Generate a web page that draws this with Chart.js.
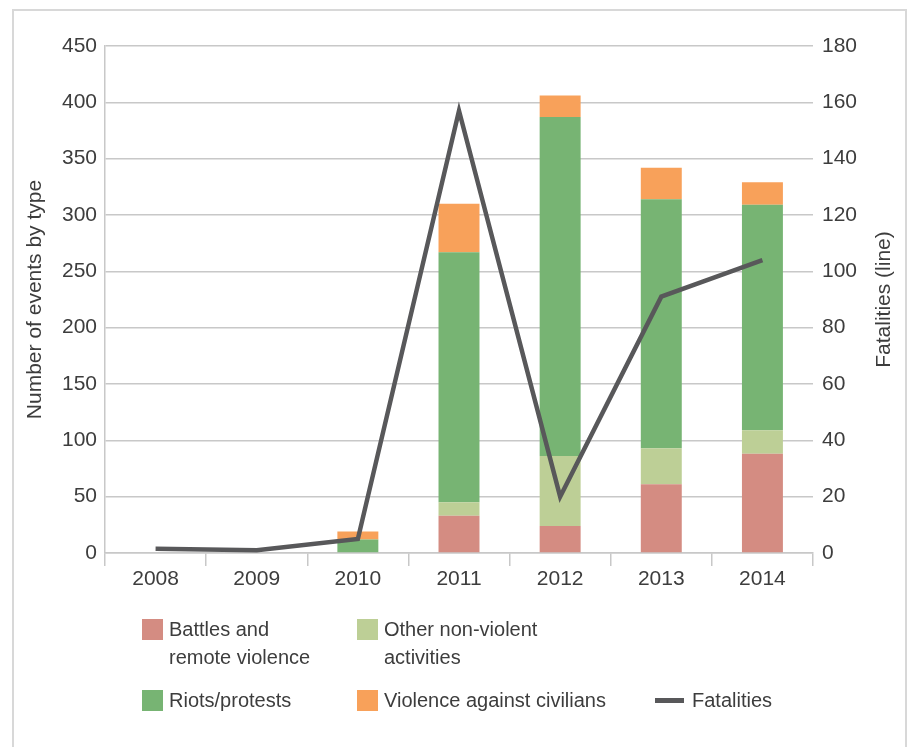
<!DOCTYPE html>
<html><head><meta charset="utf-8">
<script src="https://cdn.jsdelivr.net/npm/chart.js@4.4.1/dist/chart.umd.min.js"></script>
<style>
html,body{margin:0;padding:0;background:#fff;}
body{width:912px;height:747px;position:relative;overflow:hidden;font-family:"Liberation Sans",Arial,sans-serif;}
#frame{position:absolute;left:12px;top:9px;width:895px;height:780px;border:2px solid #d8d8d8;box-sizing:border-box;}
#wrap{position:absolute;left:0;top:0;width:912px;height:747px;}
.lg{position:absolute;font-size:20px;color:#3d3d3d;line-height:28px;white-space:pre-line;}
.sw{position:absolute;width:21px;height:21px;}
.ln{position:absolute;width:29px;height:5px;}
</style></head><body>
<div id="frame"></div>
<div id="wrap"><canvas id="c" width="912" height="747"></canvas></div>
<div id="legend"></div>
<script>
// ---- data ----
const categories = ['2008', '2009', '2010', '2011', '2012', '2013', '2014'];
const battlesRemoteViolence = [0, 0, 0, 33, 24, 61, 88];
const otherNonViolent = [0, 0, 0, 12, 62, 32, 21];
const riotsProtests = [0, 0, 12, 222, 301, 221, 200];
const violenceAgainstCivilians = [0, 0, 7, 43, 19, 28, 20];
const fatalities = [1.5, 1, 5, 157, 20, 91, 104];
const seriesNames = ['Battles and\nremote violence', 'Other non-violent\nactivities', 'Riots/protests', 'Violence against civilians', 'Fatalities'];
const leftAxisTitle = 'Number of events by type';
const rightAxisTitle = 'Fatalities (line)';

// ---- styles ----
const colors = ['#d48c82', '#bdcf96', '#77b473', '#f8a15a', '#58585a'];
const textColor = '#3d3d3d';
const gridColor = '#c8c8c8';
const fontFam = '"Liberation Sans", Arial, sans-serif';

const barBase = {type: 'bar', yAxisID: 'y', stack: 's', order: 1, barPercentage: 0.405, categoryPercentage: 1, borderWidth: 0};

const rightTitlePlugin = {
  id: 'rightTitle',
  afterDraw(chart) {
    const ctx = chart.ctx, a = chart.chartArea;
    ctx.save();
    ctx.translate(884, (a.top + a.bottom) / 2);
    ctx.rotate(-Math.PI / 2);
    ctx.font = '21px ' + fontFam;
    ctx.fillStyle = textColor;
    ctx.textAlign = 'center';
    ctx.textBaseline = 'middle';
    ctx.fillText(rightAxisTitle, 0, 0);
    ctx.restore();
  }
};

const chart = new Chart(document.getElementById('c'), {
  data: {
    labels: categories,
    datasets: [
      Object.assign({}, barBase, {label: seriesNames[0], data: battlesRemoteViolence, backgroundColor: colors[0]}),
      Object.assign({}, barBase, {label: seriesNames[1], data: otherNonViolent, backgroundColor: colors[1]}),
      Object.assign({}, barBase, {label: seriesNames[2], data: riotsProtests, backgroundColor: colors[2]}),
      Object.assign({}, barBase, {label: seriesNames[3], data: violenceAgainstCivilians, backgroundColor: colors[3]}),
      {type: 'line', label: seriesNames[4], data: fatalities, yAxisID: 'y1', order: 0,
       borderColor: colors[4], backgroundColor: colors[4], borderWidth: 4.5, pointRadius: 0,
       tension: 0, fill: false, borderCapStyle: 'butt', borderJoinStyle: 'miter'}
    ]
  },
  options: {
    responsive: false,
    animation: false,
    devicePixelRatio: 1,
    layout: {padding: {top: 46, left: 0, right: 0, bottom: 0}},
    plugins: {legend: {display: false}, tooltip: {enabled: false}},
    scales: {
      x: {
        stacked: true,
        grid: {offset: true, drawOnChartArea: false, tickLength: 13, color: gridColor, lineWidth: 1.5},
        border: {display: true, color: gridColor, width: 1.5},
        ticks: {font: {size: 21, family: fontFam}, color: textColor, padding: 1, maxRotation: 0},
        afterFit: s => { s.height = 194; }
      },
      y: {
        stacked: true, position: 'left', min: 0, max: 450,
        ticks: {stepSize: 50, font: {size: 21, family: fontFam}, color: textColor, padding: 8},
        grid: {color: gridColor, lineWidth: 1.5, drawTicks: false},
        border: {display: true, color: gridColor, width: 1.5},
        title: {display: true, text: leftAxisTitle, font: {size: 21, family: fontFam}, color: textColor, padding: {top: 23, bottom: 0}},
        afterFit: s => { s.width = 105; }
      },
      y1: {
        position: 'right', min: 0, max: 180, stacked: false,
        ticks: {stepSize: 20, font: {size: 21, family: fontFam}, color: textColor, padding: 9},
        grid: {display: false, drawTicks: false},
        border: {display: false},
        afterFit: s => { s.width = 99; }
      }
    }
  },
  plugins: [rightTitlePlugin]
});

// ---- HTML legend built from the datasets ----
const legendPos = [
  {x: 142, y: 619}, {x: 357, y: 619},
  {x: 142, y: 690}, {x: 357, y: 690}, {x: 655, y: 690}
];
const legend = document.getElementById('legend');
chart.data.datasets.forEach((ds, i) => {
  const p = legendPos[i];
  if (ds.type === 'line') {
    const l = document.createElement('div');
    l.className = 'ln';
    l.style.left = p.x + 'px'; l.style.top = (p.y + 8) + 'px';
    l.style.background = ds.borderColor;
    legend.appendChild(l);
  } else {
    const s = document.createElement('div');
    s.className = 'sw';
    s.style.left = p.x + 'px'; s.style.top = p.y + 'px';
    s.style.background = ds.backgroundColor;
    legend.appendChild(s);
  }
  const t = document.createElement('div');
  t.className = 'lg';
  t.textContent = ds.label;
  t.style.left = (p.x + (ds.type === 'line' ? 37 : 27)) + 'px';
  t.style.top = (p.y - 4) + 'px';
  legend.appendChild(t);
});
</script>
</body></html>
